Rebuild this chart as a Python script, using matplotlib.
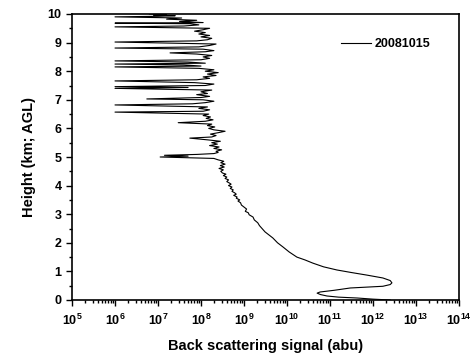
import matplotlib
matplotlib.use('Agg')
import matplotlib.pyplot as plt
from matplotlib.ticker import FixedLocator, FuncFormatter, LogLocator, MultipleLocator, NullFormatter
import numpy as np

# 高度 (km) 与 log10(后向散射信号)
height_km = [
    0.00, 0.03, 0.07, 0.10, 0.14, 0.19, 0.24, 0.28, 0.34, 0.42, 0.48, 0.54, 0.60, 0.68,
    0.77, 0.87, 0.96, 1.05, 1.16, 1.29, 1.40, 1.50, 1.68, 1.85, 2.00, 2.17, 2.38, 2.50,
    2.60, 2.70, 2.80, 2.90, 2.98, 3.05, 3.10, 3.18, 3.25, 3.32, 3.40, 3.46, 3.50, 3.56,
    3.60, 3.66, 3.70, 3.75, 3.80, 3.85, 3.90, 3.95, 4.00, 4.05, 4.09, 4.14, 4.20, 4.25,
    4.30, 4.35, 4.40, 4.44,
    4.50, 4.55, 4.60, 4.65, 4.70, 4.75, 4.80, 4.85, 4.90, 4.95, 5.00, 5.03, 5.06, 5.09,
    5.12, 5.16, 5.20, 5.25, 5.30, 5.35, 5.40, 5.45, 5.50, 5.55, 5.60, 5.66, 5.70, 5.75,
    5.80, 5.85, 5.90, 5.95, 6.00, 6.05, 6.10, 6.15, 6.20, 6.25, 6.30, 6.35, 6.40, 6.45,
    6.50, 6.57, 6.60, 6.65, 6.70, 6.75, 6.82, 6.86, 6.90, 6.95, 7.00, 7.03, 7.08, 7.12,
    7.18, 7.22, 7.28, 7.34, 7.40, 7.43, 7.46, 7.50, 7.55, 7.60, 7.66, 7.70, 7.75, 7.80,
    7.85, 7.90, 7.95, 8.00, 8.05, 8.10, 8.15, 8.18, 8.22, 8.25, 8.28, 8.32, 8.36, 8.40,
    8.45, 8.50, 8.55, 8.60, 8.64, 8.68, 8.72, 8.77, 8.81, 8.85, 8.90, 8.95, 9.02, 9.06,
    9.10, 9.15, 9.20, 9.25, 9.30, 9.35, 9.40, 9.45, 9.50, 9.55, 9.58, 9.62, 9.66, 9.68,
    9.70, 9.74, 9.78, 9.82, 9.86, 9.90, 9.92, 9.94, 9.96, 9.98, 10.00,
]
log_signal = [
    12.40, 12.00, 11.63, 11.20, 10.93, 10.78, 10.70, 10.77, 11.10, 11.47, 12.23, 12.40, 12.44, 12.40,
    12.23, 11.86, 11.50, 11.16, 10.85, 10.60, 10.42, 10.23, 10.05, 9.91, 9.78, 9.67, 9.49, 9.42,
    9.36, 9.32, 9.24, 9.21, 9.12, 9.10, 9.03, 9.06, 9.00, 8.94, 8.92, 8.86, 8.90, 8.82,
    8.84, 8.76, 8.82, 8.78, 8.72, 8.75, 8.68, 8.72, 8.64, 8.70, 8.66, 8.60, 8.64, 8.56,
    8.60, 8.52, 8.58, 8.50,
    8.46, 8.52, 8.42, 8.54, 8.45, 8.56, 8.46, 8.53, 8.40, 8.30, 7.05, 7.70, 7.15, 7.90,
    8.30, 8.40, 8.35, 8.48, 8.30, 8.42, 8.20, 8.38, 8.25, 8.45, 8.15, 7.74, 8.25, 8.35,
    8.22, 8.40, 8.56, 8.30, 8.18, 8.32, 8.15, 8.25, 7.47, 8.10, 8.28, 8.12, 8.22, 8.05,
    8.18, 6.00, 8.05, 8.20, 7.95, 8.15, 6.00, 7.80, 8.10, 8.30, 8.05, 6.74, 8.00, 8.20,
    7.90, 8.15, 8.00, 8.25, 6.00, 7.70, 6.00, 8.10, 8.30, 7.85, 6.00, 7.90, 8.20, 8.05,
    8.35, 8.15, 8.40, 8.10, 8.30, 7.95, 6.00, 8.00, 7.60, 6.00, 8.10, 7.70, 6.00, 8.00,
    8.20, 8.05, 8.25, 7.90, 7.28, 8.10, 8.30, 8.05, 6.00, 7.95, 8.20, 8.35, 6.00, 7.90,
    8.15, 8.25, 8.00, 8.20, 7.95, 8.10, 7.85, 8.05, 8.20, 6.00, 7.60, 7.95, 7.75, 6.00,
    8.05, 7.50, 7.90, 7.20, 7.55, 6.00, 7.00, 7.40, 6.90, 7.20, 6.80,
]
series_label = '20081015'
xtick_powers = [5, 6, 7, 8, 9, 10, 11, 12, 13, 14]

signal = 10.0 ** np.array(log_signal)

plt.rcParams['font.family'] = ['Liberation Sans', 'DejaVu Sans']
plt.rcParams['font.weight'] = 'bold'
plt.rcParams['mathtext.fontset'] = 'custom'
plt.rcParams['mathtext.rm'] = 'Liberation Sans:bold'
plt.rcParams['mathtext.bf'] = 'Liberation Sans:bold'

fig = plt.figure(figsize=(4.71, 3.53), dpi=100)
ax = fig.add_axes([72 / 471, 53 / 353, 387 / 471, 286 / 353])

ax.plot(signal, height_km, color='black', lw=0.8, label=series_label)

ax.set_xscale('log')
ax.set_xlim(1e5, 1e14)
ax.set_ylim(0, 10)

ax.xaxis.set_major_locator(FixedLocator([10.0 ** p for p in xtick_powers]))
ax.xaxis.set_major_formatter(FuncFormatter(lambda v, pos: r'$\mathrm{10^{%d}}$' % round(np.log10(v))))
ax.xaxis.set_minor_locator(LogLocator(base=10, subs=np.arange(2, 10), numticks=100))
ax.xaxis.set_minor_formatter(NullFormatter())
ax.yaxis.set_major_locator(MultipleLocator(1))
ax.yaxis.set_minor_locator(MultipleLocator(0.5))

ax.tick_params(which='both', direction='out', top=False, right=False, width=1)
ax.tick_params(which='major', length=4, labelsize=9)
ax.tick_params(axis='x', which='major', pad=5)
ax.tick_params(which='minor', length=2)
for s in ax.spines.values():
    s.set_linewidth(1.2)

ax.set_xlabel('Back scattering signal (abu)', fontsize=10.5, fontweight='bold', labelpad=8)
ax.set_ylabel('Height (km; AGL)', fontsize=10.5, fontweight='bold', labelpad=8)

leg = ax.legend(loc='center left', bbox_to_anchor=(0.695, 0.895), frameon=False,
                fontsize=9, handlelength=2.4, handletextpad=0.3,
                borderpad=0, borderaxespad=0)
for t in leg.get_texts():
    t.set_fontweight('bold')

fig.savefig('out.png', dpi=100)
